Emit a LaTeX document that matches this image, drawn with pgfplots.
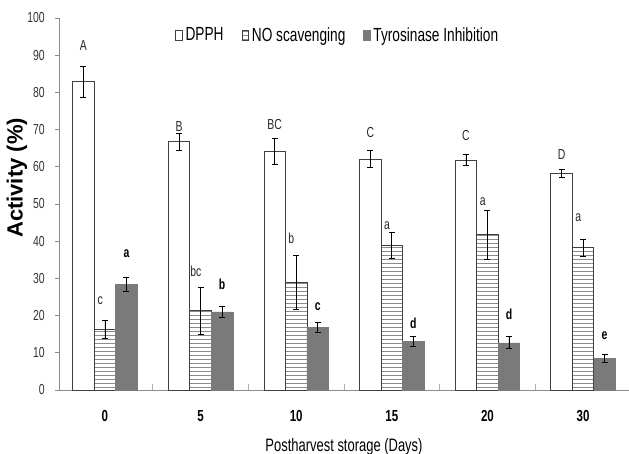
\documentclass[border=0pt]{standalone}
\usepackage{fontspec}
\setmainfont{Liberation Sans}[FakeStretch=0.72]
\newfontfamily\widefont{Liberation Sans}
\usepackage{pgfplots}
\usepackage{pgfplotstable}
\pgfplotsset{compat=1.18}
\usetikzlibrary{patterns}

\pgfdeclarepatternformonly{myhlines}{\pgfpoint{-1pt}{0pt}}{\pgfpoint{101pt}{4pt}}{\pgfpoint{100pt}{4pt}}%
{\pgfsetlinewidth{1pt}\pgfpathmoveto{\pgfpoint{-1pt}{2pt}}\pgfpathlineto{\pgfpoint{101pt}{2pt}}\pgfusepath{stroke}}

\definecolor{barline}{HTML}{404040}
\definecolor{tyfill}{HTML}{7A7A7A}
\definecolor{axgray}{HTML}{8C8C8C}
\definecolor{hatch}{HTML}{8C8C8C}

\pgfplotstableread{
x dpph dppherr no noerr ty tyerr
0 82.9 4.2 16.4 2.4 28.4 2.0
1 66.7 2.3 21.3 6.3 21.0 1.4
2 64.2 3.5 29.0 7.3 16.8 1.3
3 62.1 2.2 38.9 3.4 13.0 1.3
4 61.8 1.5 41.7 6.6 12.7 1.6
5 58.2 1.0 38.3 2.3 8.5 1.2
}\datatab

\pgfplotstableread{
x dl dly nl nly tl tly
0 A 92.7 c 23.9 a 36.6
1 B 70.7 bc 32.0 b 28.5
2 BC 71.5 b 40.9 c 22.4
3 C 69.1 a 44.1 d 18.0
4 C 68.3 a 50.5 d 20.3
5 D 63.4 a 46.2 e 14.7
}\labtab

\pgfplotsset{
  mylegend/.style={legend image code/.code={\draw[##1] (0pt,-5pt) rectangle (6.5pt,5pt);}},
  myerr/.style={error bars/.cd, y dir=both, y explicit,
    error bar style={black, line width=0.8pt},
    error mark options={rotate=90, mark size=3pt, black, line width=0.8pt}},
}

\begin{document}
\begin{tikzpicture}
\path[use as bounding box] (0pt,0pt) rectangle (629pt,-454pt);
\begin{axis}[
  at={(59pt,-390pt)}, anchor=south west,
  scale only axis, width=570pt, height=372pt,
  xmin=-0.48, xmax=5.48, ymin=0, ymax=100,
  clip=false,
  axis x line*=bottom, axis y line*=left,
  axis line style={draw=axgray, line width=0.9pt},
  /pgf/number format/assume math mode=true,
  ytick={0,10,...,100},
  ytick style={draw=axgray, line width=0.8pt},
  ytick align=outside, major tick length=4pt,
  yticklabel style={font=\fontsize{14.5}{14.5}\selectfont, text=black!80, anchor=east, inner sep=0pt, xshift=-10pt},
  xtick={0,1,2,3,4,5},
  xticklabels={0,5,10,15,20,30},
  xtick style={draw=none},
  xticklabel style={font=\fontsize{16}{16}\selectfont\bfseries, text=black, anchor=center, yshift=-26pt},
  extra x ticks={0.5,1.5,2.5,3.5,4.5},
  extra x tick labels={},
  extra x tick style={tick align=inside, major tick length=6pt, xtick style={draw=axgray!70, line width=0.6pt}},
  xlabel={Postharvest storage (Days)},
  xlabel style={font=\fontsize{18}{18}\selectfont, at={(axis description cs:0.5,-0.153)}, anchor=center},
  ylabel={\widefont\fontsize{22}{22}\selectfont\bfseries Activity (\%)},
  ylabel style={at={(axis description cs:-0.0737,0.57)}, anchor=center},
  legend columns=3,
  legend style={draw=none, fill=none, at={(0.489,0.954)}, anchor=center,
    font=\fontsize{19}{19}\selectfont,
    nodes={inner xsep=2pt, inner ysep=0pt},
    /tikz/every odd column/.append style={column sep=1pt},
    /tikz/every even column/.append style={column sep=16pt}},
]
\addplot[ybar, bar width=0.225, bar shift=0pt, draw=barline, line width=0.8pt, fill=white, mylegend, myerr]
  table[x expr=\thisrow{x}-0.225, y=dpph, y error=dppherr]{\datatab};
\addlegendentry{DPPH}
\addplot[ybar, bar width=0.225, bar shift=0pt, draw=barline, line width=0.8pt,
  pattern=myhlines, pattern color=hatch, mylegend, myerr]
  table[x=x, y=no, y error=noerr]{\datatab};
\addlegendentry{NO scavenging}
\addplot[ybar, bar width=0.225, bar shift=0pt, draw=tyfill, line width=0.5pt, fill=tyfill, mylegend, myerr]
  table[x expr=\thisrow{x}+0.225, y=ty, y error=tyerr]{\datatab};
\addlegendentry{Tyrosinase Inhibition}

\addplot[draw=none, mark=none, forget plot, nodes near coords, point meta=explicit symbolic,
  nodes near coords style={anchor=center, text=black!85, font=\fontsize{14.5}{14.5}\selectfont, inner sep=0pt}]
  table[x expr=\thisrow{x}-0.225, y=dly, meta=dl]{\labtab};
\addplot[draw=none, mark=none, forget plot, nodes near coords, point meta=explicit symbolic,
  nodes near coords style={anchor=center, text=black!85, font=\fontsize{14.5}{14.5}\selectfont, inner sep=0pt}]
  table[x expr=\thisrow{x}-0.05, y=nly, meta=nl]{\labtab};
\addplot[draw=none, mark=none, forget plot, nodes near coords, point meta=explicit symbolic,
  nodes near coords style={anchor=center, text=black, font=\fontsize{14.5}{14.5}\selectfont\bfseries, inner sep=0pt}]
  table[x expr=\thisrow{x}+0.225, y=tly, meta=tl]{\labtab};
\end{axis}
\end{tikzpicture}
\end{document}
